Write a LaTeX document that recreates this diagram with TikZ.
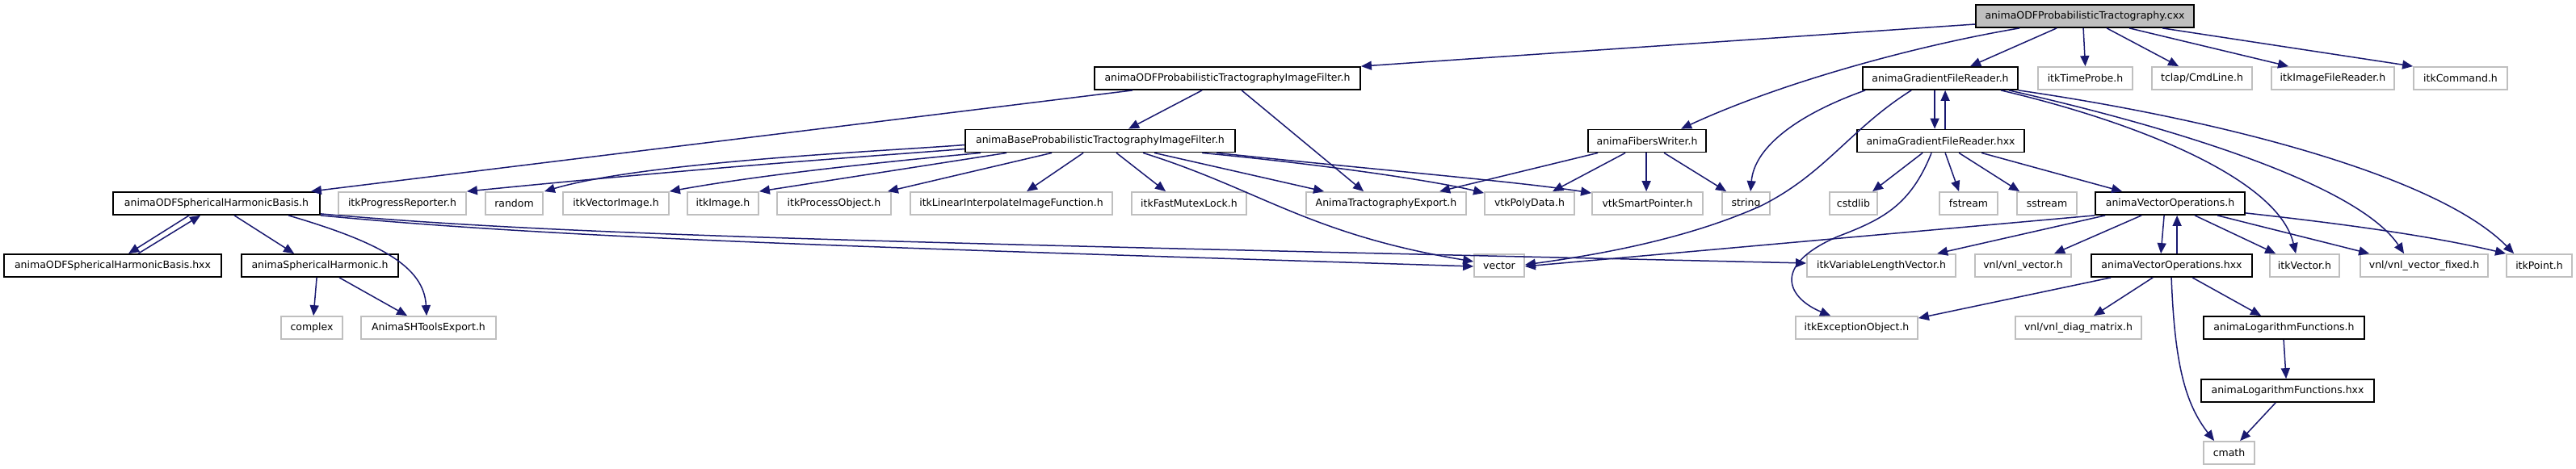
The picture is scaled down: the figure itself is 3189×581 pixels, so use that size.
\documentclass[tikz,border=0pt]{standalone}
\usepackage{fontspec}
\setmainfont{DejaVu Sans}
\usetikzlibrary{arrows.meta}
\definecolor{edgec}{HTML}{191970}
\definecolor{gry}{HTML}{BFBFBF}
\newcommand\bx[6]{\node[#1, minimum width={#4-#3}] (#2) at ({(#3+#4)/2},#5) {#6};}
\begin{document}
\begin{tikzpicture}[x=1pt,y=-1pt,
  box/.style={draw=black, line width=1.8pt, fill=white, minimum height=28pt, inner sep=0pt, font=\fontsize{12.5}{14}\selectfont},
  ext/.style={box, draw=gry},
  root/.style={box, fill=gry},
  edge/.style={draw=edgec, line width=1.5pt, -{Triangle[length=13pt,width=11pt]}}]
\fill[white] (0,0) rectangle (3189,581);
\useasboundingbox (0,0) rectangle (3189,581);
% row 1
\bx{root}{cxx}{2446}{2716}{20}{animaODFProbabilisticTractography.cxx}
% row 2
\bx{box}{ifilt}{1355}{1684}{97}{animaODFProbabilisticTractographyImageFilter.h}
\bx{box}{gfrh}{2306}{2498}{97}{animaGradientFileReader.h}
\bx{ext}{timeprobe}{2523}{2640}{97}{itkTimeProbe.h}
\bx{ext}{cmdline}{2664}{2788}{97}{tclap/CmdLine.h}
\bx{ext}{imgreader}{2812}{2964}{97}{itkImageFileReader.h}
\bx{ext}{command}{2988}{3104}{97}{itkCommand.h}
% row 3
\bx{box}{base}{1195}{1529}{174.5}{animaBaseProbabilisticTractographyImageFilter.h}
\bx{box}{fibers}{1966}{2112}{174.5}{animaFibersWriter.h}
\bx{box}{gfrhxx}{2299}{2506}{174.5}{animaGradientFileReader.hxx}
% row 4
\bx{box}{shb}{140}{396}{252}{animaODFSphericalHarmonicBasis.h}
\bx{ext}{progress}{419}{577}{252}{itkProgressReporter.h}
\bx{ext}{random}{601}{672}{252}{random}
\bx{ext}{vecimg}{697}{828}{252}{itkVectorImage.h}
\bx{ext}{itkimage}{851}{939}{252}{itkImage.h}
\bx{ext}{procobj}{962}{1103}{252}{itkProcessObject.h}
\bx{ext}{linint}{1127}{1377}{252}{itkLinearInterpolateImageFunction.h}
\bx{ext}{mutex}{1401}{1543}{252}{itkFastMutexLock.h}
\bx{ext}{tracexp}{1617}{1815}{252}{AnimaTractographyExport.h}
\bx{ext}{polydata}{1838}{1949}{252}{vtkPolyData.h}
\bx{ext}{smartptr}{1971}{2108}{252}{vtkSmartPointer.h}
\bx{ext}{string}{2132}{2191}{252}{string}
\bx{ext}{cstdlib}{2265}{2324}{252}{cstdlib}
\bx{ext}{fstream}{2401}{2473}{252}{fstream}
\bx{ext}{sstream}{2497}{2571}{252}{sstream}
\bx{box}{vecops}{2594}{2779}{252}{animaVectorOperations.h}
% row 5
\bx{box}{shbhxx}{5}{274}{329}{animaODFSphericalHarmonicBasis.hxx}
\bx{box}{sphharm}{299}{493}{329}{animaSphericalHarmonic.h}
\bx{ext}{vector}{1825}{1887}{329}{vector}
\bx{ext}{varlen}{2237}{2421}{329}{itkVariableLengthVector.h}
\bx{ext}{vnlvec}{2445}{2564}{329}{vnl/vnl\_vector.h}
\bx{box}{vecopshxx}{2589}{2788}{329}{animaVectorOperations.hxx}
\bx{ext}{itkvector}{2810}{2896}{329}{itkVector.h}
\bx{ext}{vnlfixed}{2922}{3080}{329}{vnl/vnl\_vector\_fixed.h}
\bx{ext}{itkpoint}{3103}{3184}{329}{itkPoint.h}
% row 6
\bx{ext}{complex}{348}{424}{406}{complex}
\bx{ext}{shtools}{447}{614}{406}{AnimaSHToolsExport.h}
\bx{ext}{excobj}{2223}{2374}{406}{itkExceptionObject.h}
\bx{ext}{diag}{2495}{2651}{406}{vnl/vnl\_diag\_matrix.h}
\bx{box}{logh}{2728}{2927}{406}{animaLogarithmFunctions.h}
% row 7, 8
\bx{box}{loghxx}{2725}{2939}{484}{animaLogarithmFunctions.hxx}
\bx{ext}{cmath}{2728}{2791}{561}{cmath}
% edges from cxx
\draw[edge] ([yshift=-10]cxx.west) -- (ifilt.north east);
\draw[edge] ([xshift=55]cxx.south west) .. controls (2380,55) and (2210,100) .. ([xshift=116]fibers.north west);
\draw[edge] ([xshift=101]cxx.south west) -- ([xshift=134]gfrh.north west);
\draw[edge] ([xshift=134]cxx.south west) -- (timeprobe.north);
\draw[edge] ([xshift=163]cxx.south west) -- ([xshift=34]cmdline.north west);
\draw[edge] ([xshift=191]cxx.south west) -- ([xshift=22]imgreader.north west);
\draw[edge] ([xshift=232]cxx.south west) -- (command.north west);
% image filter
\draw[edge] ([xshift=48]ifilt.south west) -- ([xshift=-12]shb.north east);
\draw[edge] ([xshift=134]ifilt.south west) -- ([xshift=203]base.north west);
\draw[edge] ([xshift=183]ifilt.south west) -- ([xshift=72]tracexp.north west);
% base filter
\draw[edge] ([yshift=-10]base.west) .. controls (1100,192) and (900,205) .. (progress.north east);
\draw[edge] ([yshift=-5]base.west) .. controls (1100,187) and (800,200) .. ([xshift=1]random.north east);
\draw[edge] ([xshift=20]base.south west) .. controls (1120,198) and (950,215) .. (vecimg.north east);
\draw[edge] ([xshift=52]base.south west) -- (itkimage.north east);
\draw[edge] ([xshift=108]base.south west) -- ([xshift=-5]procobj.north east);
\draw[edge] ([xshift=147]base.south west) -- ([xshift=145]linint.north west);
\draw[edge] ([xshift=188]base.south west) -- ([xshift=43]mutex.north west);
\draw[edge] ([xshift=221]base.south west) .. controls (1560,235) and (1620,290) .. ([yshift=5]vector.west);
\draw[edge] ([xshift=235]base.south west) -- ([xshift=23]tracexp.north west);
\draw[edge] ([xshift=294]base.south west) .. controls (1650,205) and (1780,225) .. ([yshift=-2]polydata.north west);
\draw[edge] ([xshift=312]base.south west) .. controls (1700,210) and (1880,225) .. ([yshift=-2]smartptr.north west);
% fibers writer
\draw[edge] ([xshift=13]fibers.south west) -- ([xshift=166]tracexp.north west);
\draw[edge] ([xshift=47]fibers.south west) -- ([xshift=85]polydata.north west);
\draw[edge] ([xshift=73]fibers.south west) -- ([xshift=68]smartptr.north west);
\draw[edge] ([xshift=95]fibers.south west) -- ([xshift=6]string.north west);
% gradient file reader
\draw[edge] ([xshift=4]gfrh.south west) .. controls (2230,140) and (2172,180) .. ([xshift=36]string.north west);
\draw[edge] ([xshift=61]gfrh.south west) .. controls (2290,160) and (2260,215) .. (2180,255) .. controls (2080,300) and (1960,318) .. ([yshift=1]vector.east);
\draw[edge] ([xshift=90]gfrh.south west) -- ([xshift=97]gfrhxx.north west);
\draw[edge] ([xshift=110]gfrhxx.north west) -- ([xshift=103]gfrh.south west);
\draw[edge] ([xshift=172]gfrh.south west) .. controls (2640,150) and (2820,220) .. ([xshift=33]itkvector.north west);
\draw[edge] ([xshift=182]gfrh.south west) .. controls (2700,160) and (2920,230) .. ([xshift=55]vnlfixed.north west);
\draw[edge] (gfrh.south east) .. controls (2760,150) and (3020,220) .. ([xshift=10]itkpoint.north west);
% gradient file reader hxx
\draw[edge] ([xshift=82]gfrhxx.south west) -- ([xshift=54]cstdlib.north west);
\draw[edge] ([xshift=110]gfrhxx.south west) -- ([xshift=25]fstream.north west);
\draw[edge] ([xshift=127]gfrhxx.south west) -- ([xshift=4]sstream.north west);
\draw[edge] ([xshift=155]gfrhxx.south west) -- ([xshift=34]vecops.north west);
\draw[edge] ([xshift=93]gfrhxx.south west) .. controls (2365,255) and (2330,272) .. (2275,293) .. controls (2190,330) and (2215,370) .. ([xshift=44]excobj.north west);
% vector operations
\draw[edge] (vecops.south west) -- ([yshift=-1]vector.east);
\draw[edge] ([xshift=13]vecops.south west) -- ([xshift=162]varlen.north west);
\draw[edge] ([xshift=58]vecops.south west) -- ([xshift=99]vnlvec.north west);
\draw[edge] ([xshift=86]vecops.south west) -- ([xshift=87]vecopshxx.north west);
\draw[edge] ([xshift=107]vecopshxx.north west) -- ([xshift=102]vecops.south west);
\draw[edge] ([xshift=124]vecops.south west) -- ([xshift=8]itkvector.north west);
\draw[edge] ([xshift=152]vecops.south west) -- ([xshift=12]vnlfixed.north west);
\draw[edge] ([yshift=3]vecops.south east) .. controls (2880,275) and (3000,290) .. (itkpoint.north west);
% vector operations hxx
\draw[edge] ([xshift=25]vecopshxx.south west) -- ([yshift=-3]excobj.north east);
\draw[edge] ([xshift=77]vecopshxx.south west) -- ([xshift=98]diag.north west);
\draw[edge] ([xshift=100]vecopshxx.south west) .. controls (2692,450) and (2705,500) .. ([xshift=14]cmath.north west);
\draw[edge] ([xshift=126]vecopshxx.south west) -- ([xshift=72]logh.north west);
\draw[edge] ([xshift=100]logh.south west) -- ([xshift=106]loghxx.north west);
\draw[edge] ([xshift=93]loghxx.south west) -- ([xshift=46]cmath.north west);
% spherical harmonic basis
\draw[edge] ([xshift=95]shb.south west) -- ([xshift=155]shbhxx.north west);
\draw[edge] ([xshift=167]shbhxx.north west) -- ([xshift=109]shb.south west);
\draw[edge] ([xshift=151]shb.south west) -- ([xshift=66]sphharm.north west);
\draw[edge] ([xshift=218]shb.south west) .. controls (470,300) and (525,330) .. ([xshift=82]shtools.north west);
\draw[edge] ([yshift=2]shb.south east) .. controls (700,292) and (1100,300) .. ([yshift=3]varlen.west);
\draw[edge] (shb.south east) .. controls (700,296) and (1100,307) .. ([yshift=-1]vector.west);
% spherical harmonic
\draw[edge] ([xshift=94]sphharm.south west) -- ([xshift=41]complex.north west);
\draw[edge] ([xshift=122]sphharm.south west) -- ([xshift=58]shtools.north west);
\end{tikzpicture}
\end{document}
